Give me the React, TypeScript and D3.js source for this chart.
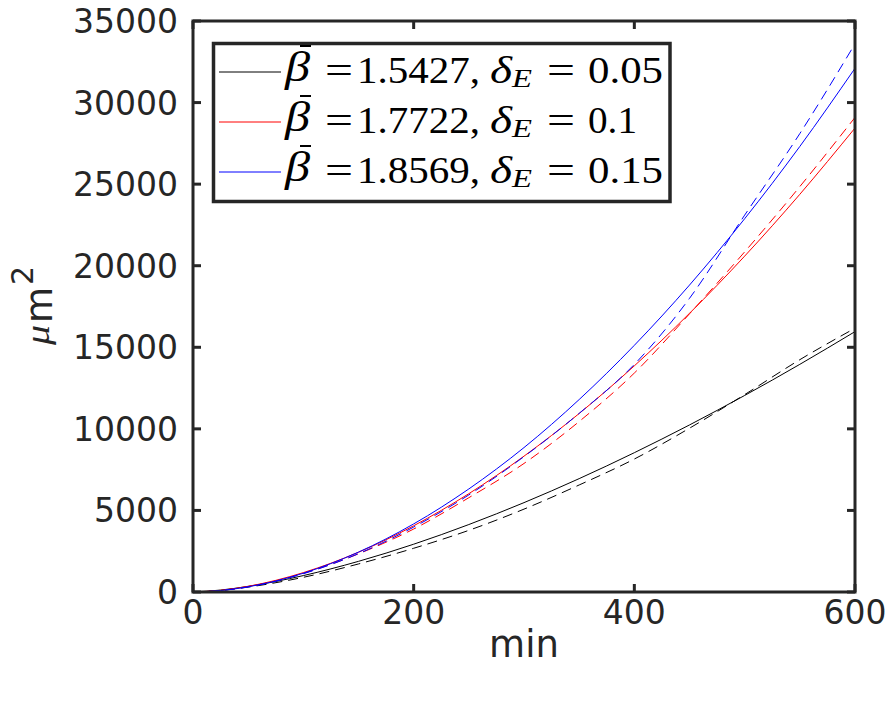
import React, { useEffect, useRef } from 'react';
import * as d3 from 'd3';

// minutes
const times = [0, 25, 50, 100, 150, 200, 250, 300, 350, 400, 450, 500, 550, 600];

// area in um^2
const blackFit = [0, 119, 345, 1006, 1880, 2929, 4135, 5478, 6949, 8539, 10240, 12047, 13955, 15960];
const blackData = [0, 100, 300, 900, 1720, 2680, 3780, 5080, 6560, 8150, 10040, 12100, 14240, 16170];
const redFit = [0, 102, 348, 1188, 2437, 4059, 6027, 8327, 10941, 13862, 17081, 20588, 24377, 28440];
const redData = [0, 95, 330, 1140, 2340, 3860, 5780, 7880, 10450, 13420, 17050, 20850, 24850, 29090];
const blueFit = [0, 88, 318, 1152, 2446, 4173, 6317, 8853, 11797, 15120, 18814, 22881, 27311, 32100];
const blueData = [0, 85, 310, 1120, 2350, 3980, 5950, 8300, 10950, 13950, 18000, 23100, 28100, 33600];

const xTicks = [0, 200, 400, 600];
const yTicks = [0, 5000, 10000, 15000, 20000, 25000, 30000, 35000];

const legendBeta = ['1.5427,', '1.7722,', '1.8569,'];
const legendDelta = ['0.05', '0.1', '0.15'];
const legendColors = ['#000000', '#ff0000', '#0000ff'];

const App = () => {
  const svgRef = useRef(null);

  useEffect(() => {
    const W = 891;
    const H = 703;
    const left = 193, right = 855, top = 21, bottom = 592;
    const axisColor = '#262626';

    const svg = d3.select(svgRef.current).attr('width', W).attr('height', H);
    svg.selectAll('*').remove();
    svg.append('rect').attr('width', W).attr('height', H).attr('fill', '#fff');

    const x = d3.scaleLinear().domain([0, 600]).range([left, right]);
    const y = d3.scaleLinear().domain([0, 35000]).range([bottom, top]);

    const series = [
      { vals: blackFit, color: '#000000', dash: null },
      { vals: blackData, color: '#000000', dash: '10,6' },
      { vals: redFit, color: '#ff0000', dash: null },
      { vals: redData, color: '#ff0000', dash: '10,6' },
      { vals: blueFit, color: '#0000ff', dash: null },
      { vals: blueData, color: '#0000ff', dash: '10,6' },
    ];

    const line = d3
      .line<number>()
      .x((d, i) => x(times[i]))
      .y((d) => y(d))
      .curve(d3.curveMonotoneX);

    svg
      .append('defs')
      .append('clipPath')
      .attr('id', 'plotclip')
      .append('rect')
      .attr('x', left)
      .attr('y', top)
      .attr('width', right - left)
      .attr('height', bottom - top);

    const plot = svg.append('g').attr('clip-path', 'url(#plotclip)');
    series.forEach((s) => {
      plot
        .append('path')
        .datum(s.vals)
        .attr('d', line)
        .attr('fill', 'none')
        .attr('stroke', s.color)
        .attr('stroke-width', 1)
        .attr('stroke-dasharray', s.dash);
    });

    // box and ticks
    const ax = svg.append('g').attr('stroke', axisColor).attr('stroke-width', 3).attr('fill', 'none');
    ax.append('rect')
      .attr('x', left)
      .attr('y', top)
      .attr('width', right - left)
      .attr('height', bottom - top);
    const tl = 8;
    xTicks.forEach((t) => {
      ax.append('line').attr('x1', x(t)).attr('x2', x(t)).attr('y1', bottom).attr('y2', bottom - tl);
      ax.append('line').attr('x1', x(t)).attr('x2', x(t)).attr('y1', top).attr('y2', top + tl);
    });
    yTicks.forEach((t) => {
      ax.append('line').attr('x1', left).attr('x2', left + tl).attr('y1', y(t)).attr('y2', y(t));
      ax.append('line').attr('x1', right).attr('x2', right - tl).attr('y1', y(t)).attr('y2', y(t));
    });

    const sans = 'DejaVu Sans, sans-serif';
    svg
      .append('g')
      .selectAll('text')
      .data(xTicks)
      .join('text')
      .attr('x', (d) => x(d))
      .attr('y', 624)
      .attr('text-anchor', 'middle')
      .attr('font-family', sans)
      .attr('font-size', 33)
      .attr('fill', axisColor)
      .text((d) => d);

    svg
      .append('g')
      .selectAll('text')
      .data(yTicks)
      .join('text')
      .attr('x', 178)
      .attr('y', (d) => y(d) + 12)
      .attr('text-anchor', 'end')
      .attr('font-family', sans)
      .attr('font-size', 33)
      .attr('fill', axisColor)
      .text((d) => d);

    svg
      .append('text')
      .attr('x', x(300))
      .attr('y', 657)
      .attr('text-anchor', 'middle')
      .attr('font-family', sans)
      .attr('font-size', 37)
      .attr('fill', axisColor)
      .text('min');

    // y label: mu m^2
    const yl = svg.append('g').attr('transform', 'translate(52,345) rotate(-90)').attr('fill', axisColor);
    yl.append('text')
      .attr('x', 0)
      .attr('y', -3)
      .attr('font-family', 'Liberation Serif, serif')
      .attr('font-style', 'italic')
      .attr('font-size', 34)
      .attr('textLength', 20)
      .attr('lengthAdjust', 'spacingAndGlyphs')
      .text('μ');
    yl.append('text').attr('x', 22).attr('y', 0).attr('font-family', sans).attr('font-size', 37).text('m');
    yl.append('text').attr('x', 60).attr('y', -19).attr('font-family', sans).attr('font-size', 30).text('2');

    // legend
    const lg = svg.append('g');
    lg.append('rect')
      .attr('x', 213.5)
      .attr('y', 43.5)
      .attr('width', 456.5)
      .attr('height', 158)
      .attr('fill', '#fff')
      .attr('stroke', axisColor)
      .attr('stroke-width', 3.5);

    const serif = 'Liberation Serif, serif';
    const rowBase = [83, 133, 183];
    rowBase.forEach((b, i) => {
      lg.append('line')
        .attr('x1', 219)
        .attr('x2', 281)
        .attr('y1', b - 11)
        .attr('y2', b - 11)
        .attr('stroke', legendColors[i])
        .attr('stroke-width', 1);
      const t = (s, xx, len, opts = {}) => {
        const el = lg
          .append('text')
          .attr('x', xx)
          .attr('y', opts.y ?? b)
          .attr('font-family', serif)
          .attr('font-size', opts.size ?? 38)
          .attr('font-style', opts.italic ? 'italic' : 'normal')
          .attr('fill', '#000')
          .attr('textLength', len)
          .attr('lengthAdjust', 'spacingAndGlyphs')
          .text(s);
        return el;
      };
      t('β', 285, 25, { italic: true, size: 42, y: b - 2 });
      lg.append('line')
        .attr('x1', 300)
        .attr('x2', 311)
        .attr('y1', b - 37)
        .attr('y2', b - 37)
        .attr('stroke', '#000')
        .attr('stroke-width', 2);
      t('=', 325, 28);
      t(legendBeta[i], 357, 123);
      t('δ', 490, 22, { italic: true });
      t('E', 512, 20, { italic: true, size: 26, y: b + 4 });
      t('=', 547, 28);
      t(legendDelta[i], 588, legendDelta[i].length === 3 ? 49 : 75);
    });
  }, []);

  return <svg ref={svgRef} style={{ position: 'absolute', left: 0, top: 0 }}></svg>;
};

export default App;
